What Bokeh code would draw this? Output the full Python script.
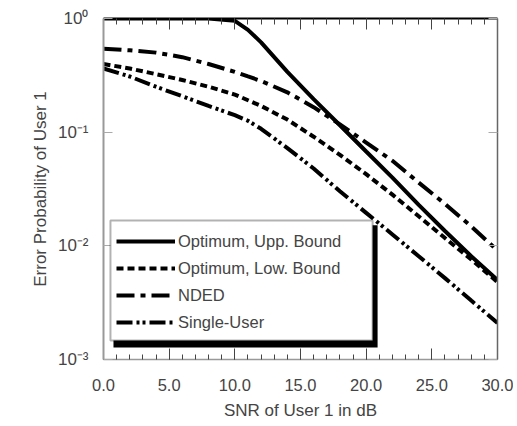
from bokeh.plotting import figure
from bokeh.models import (LinearAxis, LogAxis, SingleIntervalTicker, FixedTicker,
                          CustomJSTickFormatter, NumeralTickFormatter, Legend,
                          LegendItem, BoxAnnotation, Range1d)
from bokeh.embed import file_html
from bokeh.resources import INLINE

# ---- data ----
snr_db = [0, 2, 4, 6, 8, 10, 11, 12, 14, 16, 18, 20, 22, 24, 26, 28, 30]
upper_bound = [1.0, 1.0, 1.0, 1.0, 1.0, 0.955, 0.794, 0.617, 0.339, 0.195, 0.115,
               0.0676, 0.0398, 0.0229, 0.0135, 0.0081, 0.0050]
lower_bound = [0.398, 0.363, 0.324, 0.288, 0.251, 0.214, 0.191, 0.170, 0.129, 0.0912,
               0.0631, 0.0427, 0.0282, 0.0182, 0.0117, 0.0076, 0.0048]
nded = [0.543, 0.525, 0.501, 0.457, 0.398, 0.339, 0.309, 0.282, 0.224, 0.166, 0.117,
        0.081, 0.056, 0.036, 0.0234, 0.0148, 0.0091]
single_user = [0.363, 0.309, 0.251, 0.207, 0.170, 0.141, 0.126, 0.107, 0.0724, 0.0479,
               0.0302, 0.0195, 0.0126, 0.0081, 0.0052, 0.0033, 0.0021]
series_labels = ["Optimum, Upp. Bound", "Optimum, Low. Bound", "NDED", "Single-User"]
y_ticks = [0.001, 0.01, 0.1, 1.0]

FONT = "Liberation Sans"

p = figure(width=513, height=426, y_axis_type="log",
           x_range=Range1d(0, 30), y_range=Range1d(0.001, 1.0),
           output_backend="svg", toolbar_location=None,
           min_border_left=103, min_border_right=16,
           min_border_top=18, min_border_bottom=67)
p.xgrid.visible = False
p.ygrid.visible = False
p.outline_line_color = None
p.background_fill_color = "white"

# bottom axis
xa = p.xaxis[0]
xa.ticker = SingleIntervalTicker(interval=5, num_minor_ticks=5)
xa.formatter = NumeralTickFormatter(format="0.0")
xa.axis_label = "SNR of User 1 in dB"
xa.axis_label_text_font = FONT
xa.axis_label_text_font_size = "17px"
xa.axis_label_text_font_style = "normal"
xa.axis_label_standoff = 7
xa.major_label_text_font = FONT
xa.major_label_text_font_size = "16.5px"
xa.major_label_standoff = 19
xa.major_tick_in = 11
xa.major_tick_out = 0
xa.minor_tick_in = 5
xa.minor_tick_out = 0
xa.axis_line_color = "#999999"
xa.axis_line_width = 1.5
xa.major_tick_line_color = "#444444"
xa.minor_tick_line_color = "#444444"

# left axis
ya = p.yaxis[0]
ya.ticker = FixedTicker(ticks=y_ticks)
ya.formatter = CustomJSTickFormatter(code="""
const e = Math.round(Math.log10(tick));
const sup = {"-": "\u207b", "0": "\u2070", "1": "\u00b9", "2": "\u00b2", "3": "\u00b3"};
return "10" + String(e).split("").map(c => sup[c]).join("");
""")
ya.axis_label = "Error Probability of User 1"
ya.axis_label_text_font = FONT
ya.axis_label_text_font_size = "17px"
ya.axis_label_text_font_style = "normal"
ya.axis_label_standoff = 5
ya.major_label_text_font = FONT
ya.major_label_text_font_size = "17px"
ya.major_label_standoff = 15
ya.major_tick_in = 9
ya.major_tick_out = 0
ya.minor_tick_line_color = None
ya.axis_line_color = "#999999"
ya.axis_line_width = 2
ya.major_tick_line_color = "#aaaaaa"

# top axis
top = LinearAxis(ticker=SingleIntervalTicker(interval=5, num_minor_ticks=5),
                 major_label_text_font_size="0px", major_label_text_color=None)
top.major_tick_in = 11
top.major_tick_out = 0
top.minor_tick_in = 6
top.minor_tick_out = 0
top.axis_line_color = "black"
top.axis_line_width = 2
top.major_tick_line_color = "#444444"
top.minor_tick_line_color = "#444444"
p.add_layout(top, "above")

# right axis
right = LogAxis(ticker=FixedTicker(ticks=y_ticks),
                major_label_text_font_size="0px", major_label_text_color=None)
right.major_tick_in = 9
right.major_tick_out = 0
right.minor_tick_line_color = None
right.axis_line_color = "#666666"
right.axis_line_width = 1.5
right.major_tick_line_color = "#aaaaaa"
p.add_layout(right, "right")

# curves
r1 = p.line(snr_db, upper_bound, line_color="black", line_width=4)
r2 = p.line(snr_db, lower_bound, line_color="black", line_width=4, line_dash="7 4")
r3 = p.line(snr_db, nded, line_color="black", line_width=4, line_dash="18 6 5 6")
r4 = p.line(snr_db, single_user, line_color="black", line_width=4,
            line_dash="16 4 3 3 3 4")

# legend frame with drop shadow
shadow = BoxAnnotation(left=0.76, right=20.87, top=10 ** -1.82, bottom=10 ** -2.894,
                       fill_color="black", fill_alpha=1.0, line_color=None)
frame = BoxAnnotation(left=0.53, right=20.49, top=10 ** -1.777, bottom=10 ** -2.832,
                      fill_color="white", fill_alpha=1.0, line_color="black",
                      line_width=2)
p.add_layout(shadow)
p.add_layout(frame)

legend = Legend(items=[LegendItem(label=lab, renderers=[r])
                       for lab, r in zip(series_labels, [r1, r2, r3, r4])],
                location=(13, 27))
legend.background_fill_alpha = 0
legend.border_line_color = None
legend.padding = 10
legend.spacing = 7
legend.glyph_width = 59
legend.glyph_height = 20
legend.label_height = 20
legend.label_standoff = 3
legend.label_text_font = FONT
legend.label_text_font_size = "16.5px"
legend.margin = 0
p.add_layout(legend)

open("out.html", "w").write(file_html(p, INLINE))
